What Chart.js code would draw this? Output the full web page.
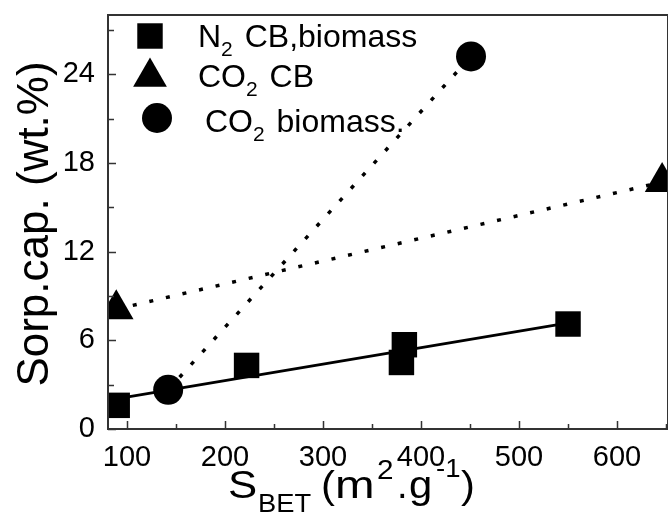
<!DOCTYPE html>
<html>
<head>
<meta charset="utf-8">
<script src="https://cdn.jsdelivr.net/npm/chart.js@4.4.1/dist/chart.umd.min.js"></script>
<style>
  html, body { margin: 0; padding: 0; background: #fff; }
  #wrap { width: 668px; height: 514px; }
</style>
</head>
<body>
<div id="wrap"><canvas id="sorpChart"></canvas></div>
<script>
// BET surface area (m2/g) against sorption capacity (wt.%)
var n2X = [90, 222, 383, 380, 550];
var n2Y = [1.6, 4.3, 5.7, 4.5, 7.1];
var n2FitX = [92, 549];
var n2FitY = [2.07, 7.16];
var co2CbX = [89, 646];
var co2CbY = [8.1, 16.7];
var co2BioX = [142, 451];
var co2BioY = [2.65, 25.2];

var xTickLabels = [100, 200, 300, 400, 500, 600];
var xMinorTicks = [150, 250, 350, 450, 550, 650];
var yTickLabels = [0, 6, 12, 18, 24];
var yMinorTicks = [3, 9, 15, 21, 27];

var FONT = '"Liberation Sans", Arial, sans-serif';

function pts(xs, ys) {
  return xs.map(function (x, i) { return { x: x, y: ys[i] }; });
}

// draws a row of text pieces: [text, size, dy, extra gap]
function drawRuns(ctx, x, y, runs) {
  runs.forEach(function (r) {
    ctx.font = r[1] + 'px ' + FONT;
    ctx.fillText(r[0], x, y + (r[2] || 0));
    x += ctx.measureText(r[0]).width + (r[3] || 0);
  });
}

// pieces placed at fixed x, slightly widened: [text, size, x, baseline, hscale]
function drawPieces(ctx, pieces) {
  pieces.forEach(function (p) {
    ctx.save();
    ctx.font = p[1] + 'px ' + FONT;
    ctx.translate(p[2], p[3]);
    ctx.scale(p[4] || 1, 1);
    ctx.fillText(p[0], 0, 0);
    ctx.restore();
  });
}

var decor = {
  id: 'decor',
  afterDatasetsDraw: function (chart) {
    var ctx = chart.ctx, a = chart.chartArea;
    var xs = chart.scales.x, ys = chart.scales.y;
    ctx.save();
    ctx.strokeStyle = '#333';
    ctx.lineWidth = 2;
    ctx.strokeRect(a.left, a.top, a.right - a.left, a.bottom - a.top);
    ctx.lineWidth = 1.5;
    ctx.beginPath();
    xTickLabels.forEach(function (v) {
      var px = Math.round(xs.getPixelForValue(v)) + 0.5;
      ctx.moveTo(px, a.bottom); ctx.lineTo(px, a.bottom - 8);
    });
    xMinorTicks.forEach(function (v) {
      var px = Math.round(xs.getPixelForValue(v)) + 0.5;
      ctx.moveTo(px, a.bottom); ctx.lineTo(px, a.bottom - 5);
    });
    yTickLabels.forEach(function (v) {
      var py = Math.round(ys.getPixelForValue(v)) + 0.5;
      ctx.moveTo(a.left, py); ctx.lineTo(a.left + 8, py);
    });
    yMinorTicks.forEach(function (v) {
      var py = Math.round(ys.getPixelForValue(v)) + 0.5;
      ctx.moveTo(a.left, py); ctx.lineTo(a.left + 6, py);
    });
    ctx.stroke();
    ctx.restore();
  },
  afterDraw: function (chart) {
    var ctx = chart.ctx;
    ctx.save();
    ctx.fillStyle = '#000';
    ctx.textBaseline = 'alphabetic';

    // y axis title
    ctx.save();
    ctx.translate(48, 224);
    ctx.rotate(-Math.PI / 2);
    ctx.textAlign = 'center';
    ctx.font = '44px ' + FONT;
    ctx.fillText('Sorp.cap. (wt.%)', 0, 0);
    ctx.restore();

    // x axis title
    ctx.textAlign = 'left';
    drawPieces(ctx, [
      ['S', 38, 228, 498, 1.15], ['BET', 26, 258, 512, 1.05], ['(', 38, 321, 498, 1.1],
      ['m', 38, 335, 498, 1.25], ['2', 27, 377, 479, 1.1], ['.', 38, 397, 498],
      ['g', 38, 409, 498, 1.1], ['-1', 25, 436, 477, 1.1], [')', 38, 461, 498, 1.1]
    ]);

    // legend
    var marks = [
      { style: 'rect', r: 18, x: 150, y: 36 },
      { style: 'triangle', r: 19.5, x: 150, y: 77 },
      { style: 'circle', r: 15, x: 157, y: 118 }
    ];
    marks.forEach(function (m) {
      Chart.helpers.drawPoint(ctx, { pointStyle: m.style, radius: m.r, borderWidth: 0 }, m.x, m.y);
    });
    drawRuns(ctx, 198, 47, [['N', 32], ['2', 21, 9, 3], [' CB,biomass', 32]]);
    drawRuns(ctx, 198, 87, [['CO', 32], ['2', 21, 9, 3], [' CB', 32]]);
    drawRuns(ctx, 205, 132, [['CO', 32], ['2', 21, 9, 3], [' biomass.', 32]]);
    ctx.restore();
  }
};

var tickFont = { family: FONT, size: 29 };

new Chart(document.getElementById('sorpChart'), {
  type: 'scatter',
  data: {
    datasets: [
      {
        data: pts(n2X, n2Y),
        showLine: false,
        pointStyle: 'rect',
        pointRadius: 18,
        pointBorderWidth: 0,
        backgroundColor: '#000',
        borderColor: '#000'
      },
      {
        data: pts(co2BioX, co2BioY),
        showLine: true,
        borderColor: '#000',
        borderWidth: 3.5,
        borderDash: [4, 13],
        pointStyle: 'circle',
        pointRadius: 15,
        pointBorderWidth: 0,
        backgroundColor: '#000'
      },
      {
        data: pts(co2CbX, co2CbY),
        showLine: true,
        borderColor: '#000',
        borderWidth: 3.5,
        borderDash: [4, 13],
        pointStyle: 'triangle',
        pointRadius: 20,
        pointBorderWidth: 0,
        backgroundColor: '#000'
      },
      {
        data: pts(n2FitX, n2FitY),
        showLine: true,
        borderColor: '#000',
        borderWidth: 3,
        pointRadius: 0
      }
    ]
  },
  options: {
    responsive: true,
    maintainAspectRatio: false,
    animation: false,
    layout: { autoPadding: false, padding: { top: 15, right: 0, left: 0, bottom: 0 } },
    plugins: { legend: { display: false }, tooltip: { enabled: false } },
    scales: {
      x: {
        type: 'linear',
        min: 80.6,
        max: 652,
        grid: { display: false, drawTicks: false },
        border: { display: false },
        afterBuildTicks: function (s) { s.ticks = xTickLabels.map(function (v) { return { value: v }; }); },
        afterFit: function (s) { s.height = 85; s.paddingLeft = 0; s.paddingRight = 0; },
        ticks: { font: tickFont, color: '#000', padding: 12, maxRotation: 0, autoSkip: false }
      },
      y: {
        min: 0,
        max: 28,
        grid: { display: false, drawTicks: false },
        border: { display: false },
        afterBuildTicks: function (s) { s.ticks = yTickLabels.map(function (v) { return { value: v }; }); },
        afterFit: function (s) { s.width = 108; s.paddingTop = 0; s.paddingBottom = 0; },
        ticks: { font: tickFont, color: '#000', padding: 13 }
      }
    }
  },
  plugins: [decor]
});
</script>
</body>
</html>
